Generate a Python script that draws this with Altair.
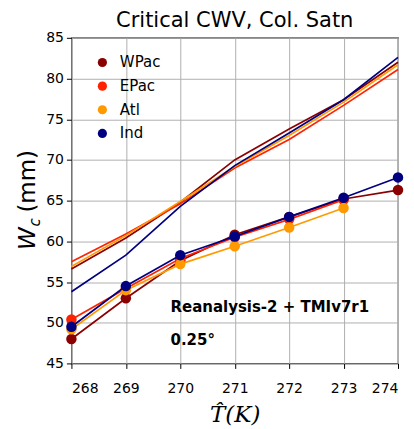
import altair as alt
import pandas as pd

temps = [268, 269, 270, 271, 272, 273, 274]
regions = ["WPac", "EPac", "Atl", "Ind"]
colors = ["#8B0000", "#FF2200", "#FF9900", "#000080"]

# Lower curves (with markers)
wpac_lo = [48.0, 53.0, 57.6, 60.8, 63.0, 65.2, 66.3]
epac_lo = [50.4, 54.2, 57.9, 60.5, 62.7, 65.1, None]
atl_lo = [49.2, 54.0, 57.2, 59.4, 61.7, 64.1, None]
ind_lo = [49.5, 54.5, 58.3, 60.6, 63.0, 65.35, 67.85]

# Upper curves (lines only)
wpac_hi = [56.6, 60.4, 64.8, 70.0, 73.8, 77.4, 82.0]
epac_hi = [57.5, 60.9, 64.6, 69.0, 72.5, 76.7, 81.1]
atl_hi = [56.9, 60.7, 64.9, 69.2, 73.0, 77.1, 81.7]
ind_hi = [53.8, 58.3, 64.3, 69.3, 73.3, 77.4, 82.6]

lo = {"WPac": wpac_lo, "EPac": epac_lo, "Atl": atl_lo, "Ind": ind_lo}
hi = {"WPac": wpac_hi, "EPac": epac_hi, "Atl": atl_hi, "Ind": ind_hi}

ann_text = ["Reanalysis-2 + TMIv7r1", "0.25°"]
ann_x = [269.82, 269.82]
ann_y = [51.95, 47.9]

xscale = alt.Scale(domain=[268, 274], nice=False, zero=False)
yscale = alt.Scale(domain=[45, 85], nice=False, zero=False)

X = alt.X("T:Q", scale=xscale,
          axis=alt.Axis(values=temps, title="T\u0302(K)", format="d"))
Y = alt.Y("W:Q", scale=yscale,
          axis=alt.Axis(values=list(range(45, 90, 5)), title=None))

cscale = alt.Scale(domain=regions, range=colors)
color_enc = alt.Color("region:N", scale=cscale, legend=None)

layers = []
for r in regions:
    dhi = pd.DataFrame({"T": temps, "W": hi[r], "region": r})
    dlo = pd.DataFrame({"T": temps, "W": lo[r], "region": r}).dropna()
    layers.append(alt.Chart(dhi).mark_line(strokeWidth=1.7).encode(x=X, y=Y, color=color_enc))
    layers.append(alt.Chart(dlo).mark_line(strokeWidth=1.7).encode(x=X, y=Y, color=color_enc))
    layers.append(alt.Chart(dlo).mark_point(filled=True, size=110, opacity=1).encode(
        x=X, y=Y, color=color_enc))

ann = pd.DataFrame({"text": ann_text, "T": ann_x, "W": ann_y})
layers.append(alt.Chart(ann).mark_text(align="left", baseline="middle", fontSize=15,
                                       fontWeight="bold", font="DejaVu Sans", color="black").encode(
    x=alt.X("T:Q", scale=xscale), y=alt.Y("W:Q", scale=yscale), text="text:N"))

# y axis title pieces (rotated)
layers.append(alt.Chart(pd.DataFrame({"t": ["W"]})).mark_text(
    angle=270, align="left", baseline="middle", fontSize=23, fontStyle="italic",
    font="DejaVu Sans", color="black").encode(x=alt.value(-43), y=alt.value(212.4), text="t:N"))
layers.append(alt.Chart(pd.DataFrame({"t": ["c"]})).mark_text(
    angle=270, align="left", baseline="middle", fontSize=15, fontStyle="italic",
    font="DejaVu Sans", color="black").encode(x=alt.value(-36), y=alt.value(189), text="t:N"))
layers.append(alt.Chart(pd.DataFrame({"t": ["(mm)"]})).mark_text(
    angle=270, align="left", baseline="middle", fontSize=23, font="DejaVu Sans",
    color="black").encode(x=alt.value(-43), y=alt.value(175), text="t:N"))

main = alt.layer(*layers)

# legend drawn from the region list through a point scale
leg_df = pd.DataFrame({"region": regions})
leg_y = alt.Y("region:N", scale=alt.Scale(type="point", domain=regions, range=[24.7, 95.7], padding=0),
              axis=None)
leg_pts = alt.Chart(leg_df).mark_point(filled=True, size=85, opacity=1).encode(
    x=alt.value(31), y=leg_y, color=color_enc)
leg_txt = alt.Chart(leg_df).mark_text(align="left", baseline="middle", fontSize=15,
                                      font="DejaVu Sans", color="black").encode(
    x=alt.value(48.5), y=leg_y, text="region:N")
legend = alt.layer(leg_pts, leg_txt)

chart = alt.layer(main, legend).resolve_scale(y="independent").properties(
    width=327, height=326,
    title=alt.TitleParams("Critical CWV, Col. Satn", fontSize=21, font="DejaVu Sans",
                          fontWeight="normal", anchor="middle", offset=0, color="black"),
    autosize=alt.AutoSizeParams(type="none"),
    padding={"left": 63.5, "top": 29.6, "right": 8, "bottom": 65},
).configure_view(stroke="black", strokeWidth=1.2).configure_axis(
    grid=True, gridColor="#b0b0b0", gridWidth=1, domain=False,
    tickColor="black", tickSize=5, tickWidth=1,
    labelFontSize=14, labelFont="DejaVu Sans", labelColor="black", labelPadding=3,
).configure_axisX(
    titleFont="DejaVu Serif", titleFontStyle="italic", titleFontWeight="normal",
    titleFontSize=23, titleColor="black", titlePadding=8, labelPadding=13
)

chart.save("out.html", embed_options={"renderer": "svg", "actions": False})
